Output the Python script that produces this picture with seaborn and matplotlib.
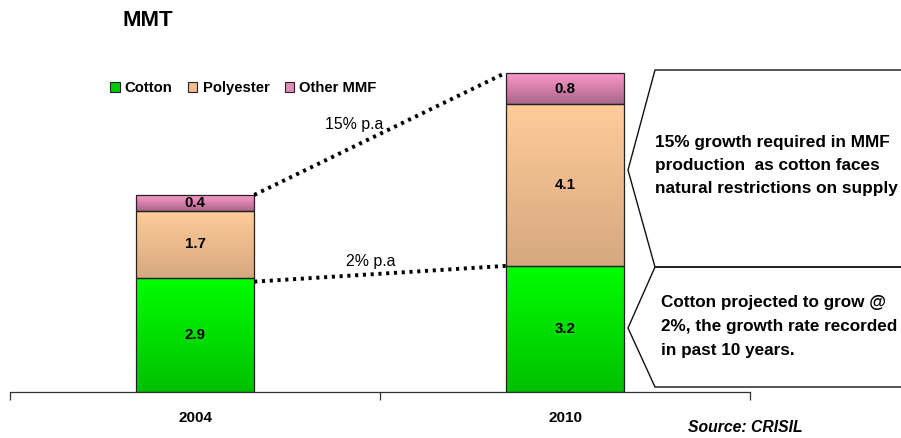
import matplotlib
matplotlib.use("Agg")
import matplotlib.pyplot as plt
import matplotlib.colors as mcolors
from matplotlib.patches import Polygon, Patch
import numpy as np
import pandas as pd
import seaborn as sns

years = ["2004", "2010"]
cotton = [2.9, 3.2]
polyester = [1.7, 4.1]
other_mmf = [0.4, 0.8]
series_names = ["Cotton", "Polyester", "Other MMF"]
growth_labels = ["15% p.a", "2% p.a"]
note_top = ["15% growth required in MMF", "production  as cotton faces", "natural restrictions on supply"]
note_bottom = ["Cotton projected to grow @", "2%, the growth rate recorded", "in past 10 years."]

sns.set_theme(style="white")
plt.rcParams["font.family"] = ["Liberation Sans", "DejaVu Sans"]
plt.rcParams["text.color"] = "black"
plt.rcParams["xtick.color"] = "black"

W, H = 901, 438
fig = plt.figure(figsize=(W / 100, H / 100), dpi=100)
ax = fig.add_axes([10 / W, 1 - 392 / H, 740 / W, 335 / H])

# gradient (top, bottom) colours per series
grads = [("#00FF00", "#00C000"), ("#FFCC99", "#D6A880"), ("#FF99CC", "#A86688")]
legend_cols = ["#00CC00", "#F2BE8C", "#E08CB8"]
layers = [cotton, polyester, other_mmf]

df = pd.DataFrame({"year": years})
bottom = np.zeros(len(years))
bar_w = 0.32
for vals, (ctop, cbot) in zip(layers, grads):
    n_before = len(ax.patches)
    sns.barplot(x=df["year"], y=vals, bottom=bottom, color=ctop, width=bar_w,
                edgecolor="#222222", linewidth=0.9, ax=ax, saturation=1)
    new = ax.patches[n_before:]
    cmap = mcolors.LinearSegmentedColormap.from_list("g", [cbot, ctop])
    for p in new:
        x0, y0 = p.get_x(), p.get_y()
        w, h = p.get_width(), p.get_height()
        grad = np.linspace(0, 1, 256).reshape(-1, 1)
        im = ax.imshow(grad, cmap=cmap, aspect="auto", origin="lower",
                       extent=[x0, x0 + w, y0, y0 + h], zorder=1.5)
        im.set_clip_path(p)
        p.set_facecolor("none")
        p.set_zorder(2)
    for p, v, b in zip(new, vals, bottom):
        ax.text(p.get_x() + p.get_width() / 2, b + v / 2, f"{v:.1f}",
                ha="center", va="center", fontsize=10.8, fontweight="bold",
                color="black", zorder=3)
    bottom = bottom + np.array(vals)

ax.set_xlim(-0.5, 1.5)
ax.set_ylim(0, 8.5)
ax.set_xlabel("")
ax.set_ylabel("")
ax.set_yticks([])
for s in ["top", "right", "left"]:
    ax.spines[s].set_visible(False)
ax.spines["bottom"].set_color("#333333")
ax.spines["bottom"].set_linewidth(0.9)
ax.set_xticks([0, 1])
ax.set_xticklabels(years, fontsize=11, fontweight="bold", color="black")
ax.set_xticks([-0.5, 0.5, 1.5], minor=True)
ax.tick_params(axis="x", which="major", length=0, pad=14)
ax.tick_params(axis="x", which="minor", length=6, width=0.9, color="#333333",
               direction="out", bottom=True)

# dotted growth lines
totals = bottom
ax.plot([bar_w / 2, 1 - bar_w / 2], [totals[0], totals[1]], color="black",
        linestyle=(0, (0.8, 1.2)), linewidth=2.8, zorder=4, clip_on=False)
ax.plot([bar_w / 2, 1 - bar_w / 2], [cotton[0] - 0.1, cotton[1]], color="black",
        linestyle=(0, (0.8, 1.2)), linewidth=2.8, zorder=4, clip_on=False)
ax.text(0.43, 6.8, growth_labels[0], ha="center", va="center", fontsize=11.4,
        color="black")
ax.text(0.475, 3.3, growth_labels[1], ha="center", va="center", fontsize=11.4,
        color="black")

# callout shapes (pixel coordinates in figure)
def px(x, y):
    return (x / W, 1 - y / H)

top_shape = [px(905, 70), px(655, 70), px(628, 170), px(655, 267), px(905, 267)]
bot_shape = [px(905, 267), px(655, 267), px(628, 328), px(655, 387), px(905, 387)]
for shp in (top_shape, bot_shape):
    fig.patches.append(Polygon(shp, closed=False, fill=False, edgecolor="#111111",
                               linewidth=1.0, transform=fig.transFigure))

for i, line in enumerate(note_top):
    fig.text(*px(655, 142 + 23.2 * i), line, ha="left", va="center",
             fontsize=12.4, fontweight="bold", color="black")
for i, line in enumerate(note_bottom):
    fig.text(*px(661, 303 + 23.7 * i), line, ha="left", va="center",
             fontsize=12.3, fontweight="bold", color="black")

fig.text(*px(123, 21), "MMT", ha="left", va="center", fontsize=16,
         fontweight="bold", color="black")
fig.text(*px(688, 428), "Source: CRISIL", ha="left", va="center", fontsize=11.3,
         fontweight="bold", fontstyle="italic", color="black")

handles = [Patch(facecolor=c, edgecolor="#222222", linewidth=0.8) for c in legend_cols]
leg = fig.legend(handles, series_names, loc="center left", bbox_to_anchor=px(97, 88),
                 ncol=3, frameon=False, handlelength=0.62, handleheight=0.62,
                 handletextpad=0.35, columnspacing=1.05,
                 prop={"size": 10.7, "weight": "bold"})
for t in leg.get_texts():
    t.set_color("black")

fig.savefig("out.png", dpi=100)
